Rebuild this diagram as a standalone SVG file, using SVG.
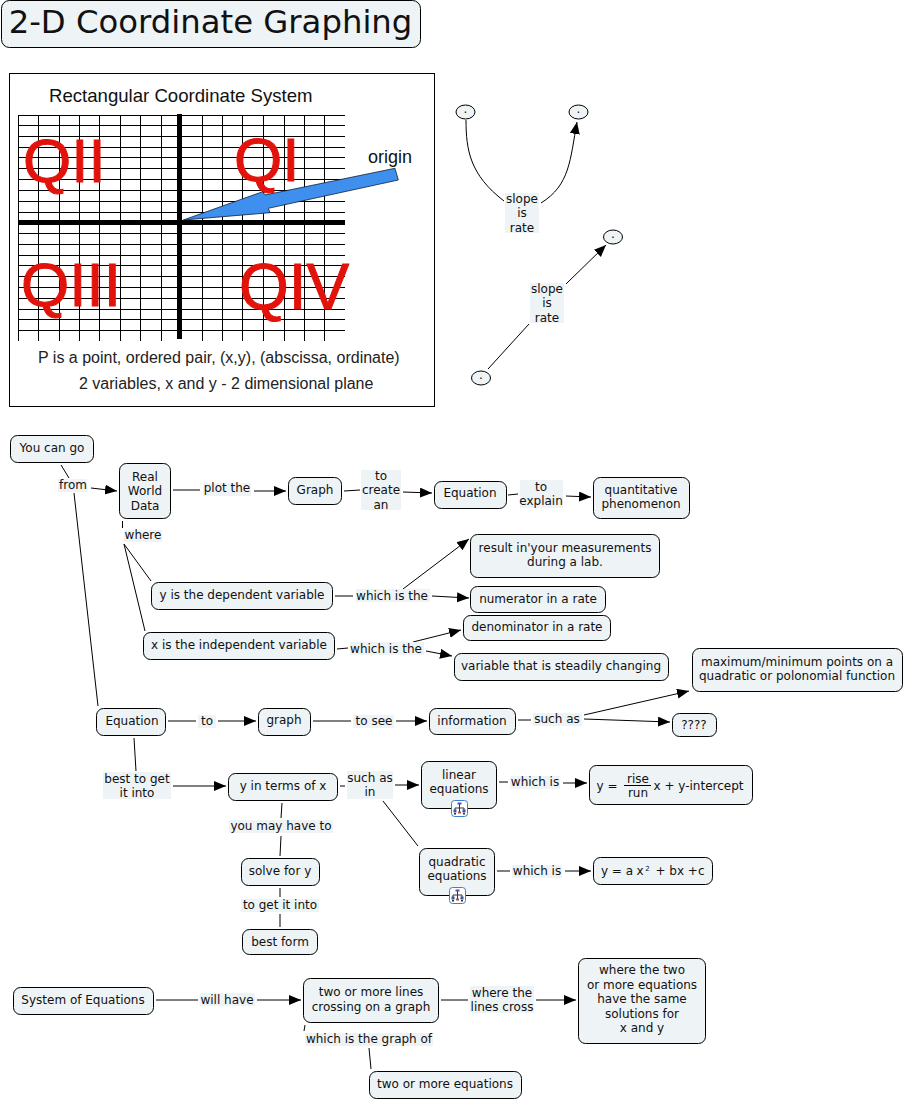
<svg xmlns="http://www.w3.org/2000/svg" width="905" height="1101" viewBox="0 0 905 1101">
<style>
.n{fill:#eef3f6;stroke:#000;stroke-width:1}
.l{fill:#eef3f6;stroke:none}
text{font-family:"DejaVu Sans",Verdana,sans-serif;font-size:12px;fill:#111;text-anchor:middle}
.g text{font-family:"Liberation Sans",Arial,sans-serif;text-anchor:start}
.q{fill:#e2130b!important;stroke:#e2130b;stroke-width:1;font-size:62px}
.c line,.c path{stroke:#000;stroke-width:1;fill:none}
.a{marker-end:url(#arr)}
</style>
<defs>
<marker id="arr" markerUnits="userSpaceOnUse" markerWidth="13" markerHeight="11" refX="12" refY="5" orient="auto"><path d="M0,0L12,5L0,10Z" fill="#000"/></marker>
<g id="icon">
<rect x="0.500" y="0.500" width="16" height="16" rx="3" fill="#fff" stroke="#3d7fd0"/>
<path d="M8.500,4V8M4,10V8H13V10M8.500,8V12" stroke="#334" fill="none"/>
<rect x="6.500" y="2.500" width="4" height="2" fill="#55a"/><rect x="2.500" y="9.500" width="3" height="3" fill="#35a"/><rect x="11.500" y="9.500" width="3" height="3" fill="#35a"/><rect x="7" y="11.500" width="3" height="2" fill="#a54"/><rect x="3" y="13" width="2" height="1.500" fill="#333"/><rect x="12" y="13" width="2" height="1.500" fill="#333"/>
</g>
</defs>
<rect width="905" height="1101" fill="#fff"/>

<g id="title"><rect class="n" x="1.500" y="0.500" width="419" height="47" rx="8"/><text x="210.500" y="33" style="font-size:32.300px">2-D Coordinate Graphing</text></g>

<g id="coordinate-graphic" class="g">
<rect x="9.500" y="73.500" width="425" height="333" fill="#fff" stroke="#000"/>
<text x="49" y="102" style="font-size:18.600px">Rectangular Coordinate System</text>
<path d="M18.500,115V341M38.500,115V341M59.500,115V341M79.500,115V341M99.500,115V341M120.500,115V341M140.500,115V341M161.500,115V341M202.500,115V341M222.500,115V341M242.500,115V341M263.500,115V341M284.500,115V341M304.500,115V341M324.500,115V341" stroke="#000" fill="none"/>
<path d="M18,115.500H345M18,125.500H345M18,136.500H345M18,147.500H345M18,157.500H345M18,168.500H345M18,179.500H345M18,190.500H345M18,201.500H345M18,212.500H345M18,233.500H345M18,244.500H345M18,255.500H345M18,265.500H345M18,276.500H345M18,287.500H345M18,298.500H345M18,309.500H345M18,319.500H345M18,330.500H345" stroke="#000" fill="none"/>
<rect x="177" y="114" width="5" height="225" fill="#000"/>
<rect x="18" y="220" width="327" height="5" fill="#000"/>
<text class="q" x="23" y="182">QII</text>
<text class="q" x="234" y="181">QI</text>
<text class="q" x="21" y="306">QIII</text>
<text class="q" x="239" y="309" style="font-size:64px">QIV</text>
<polygon points="183.300,220 262.700,191.700 265,195 395,168.300 398.300,180 268.300,208.300 270,212.700" fill="#3f8fef" stroke="#123" stroke-width="0.800"/>
<text x="368" y="163" style="font-size:18px">origin</text>
<text x="38" y="363" style="font-size:16px;fill:#222">P is a point, ordered pair, (x,y), (abscissa, ordinate)</text>
<text x="79" y="389" style="font-size:16px;fill:#222">2 variables, x and y - 2 dimensional plane</text>
</g>

<g id="connectors" class="c">
<path d="M466,120C466,150 470,175 504,201"/>
<path class="a" d="M541,203C570,185 570,160 577,122"/>
<line x1="488" y1="369" x2="529" y2="324"/><line class="a" x1="566" y1="284" x2="606" y2="245"/>
<line x1="61" y1="465" x2="69" y2="478"/><line class="a" x1="91" y1="488" x2="117" y2="491"/><line x1="74" y1="493" x2="98" y2="706"/>
<line x1="122.500" y1="521" x2="122.500" y2="528"/><line x1="124" y1="544" x2="151" y2="581"/><line x1="124" y1="544" x2="145" y2="631"/>
<line x1="173" y1="490" x2="200" y2="490"/><line class="a" x1="254" y1="491" x2="286" y2="491"/>
<line x1="344" y1="491" x2="360" y2="490"/><line class="a" x1="403" y1="492" x2="432" y2="493"/>
<line x1="508" y1="495" x2="518" y2="494"/><line class="a" x1="566" y1="496" x2="591" y2="497"/>
<line x1="335" y1="596" x2="353" y2="596"/><line class="a" x1="403" y1="589" x2="469" y2="539"/><line class="a" x1="432" y1="596" x2="469" y2="598"/>
<line x1="337" y1="649" x2="348" y2="648"/><line class="a" x1="413" y1="642" x2="461" y2="630"/><line class="a" x1="426" y1="651" x2="452" y2="656"/>
<line x1="168" y1="721" x2="196" y2="721"/><line class="a" x1="218" y1="721" x2="256" y2="721"/>
<line x1="313" y1="721" x2="351" y2="721"/><line class="a" x1="396" y1="721" x2="427" y2="721"/>
<line x1="518" y1="720" x2="531" y2="720"/><line class="a" x1="584" y1="715" x2="689" y2="691"/><line class="a" x1="584" y1="719" x2="670" y2="722"/>
<line x1="134" y1="738" x2="136" y2="771"/><line class="a" x1="173" y1="786" x2="226" y2="786"/>
<line x1="340" y1="786" x2="345" y2="786"/><line class="a" x1="395" y1="785" x2="419" y2="785"/><line x1="383" y1="801" x2="418" y2="846"/>
<line x1="282" y1="803" x2="281" y2="818"/><line x1="281" y1="836" x2="280" y2="856"/>
<line x1="280" y1="888" x2="280" y2="897"/><line x1="280" y1="914" x2="280" y2="927"/>
<line x1="499" y1="782" x2="508" y2="782"/><line class="a" x1="563" y1="783" x2="587" y2="783"/>
<line x1="497" y1="871" x2="510" y2="871"/><line class="a" x1="565" y1="871" x2="591" y2="871"/>
<line x1="156" y1="1000" x2="198" y2="1000"/><line class="a" x1="257" y1="1000" x2="301" y2="1000"/>
<line x1="441" y1="1000" x2="468" y2="1000"/><line class="a" x1="536" y1="1000" x2="576" y2="1000"/>
<line x1="305" y1="1025" x2="304" y2="1031"/><line x1="369" y1="1048" x2="371" y2="1069"/>
</g>

<g id="link-labels">
<g><rect class="l" x="505" y="193" width="34" height="40"/><text x="522" y="203">slope</text><text x="522" y="217">is</text><text x="522" y="232">rate</text></g>
<g><rect class="l" x="530" y="283" width="34" height="40"/><text x="547" y="293">slope</text><text x="547" y="307">is</text><text x="547" y="322">rate</text></g>
<g><rect class="l" x="58" y="479" width="29" height="13"/><text x="73" y="489">from</text></g>
<g><rect class="l" x="124" y="530" width="38" height="12"/><text x="143" y="539">where</text></g>
<g><rect class="l" x="203" y="483" width="48" height="13"/><text x="227" y="492">plot the</text></g>
<g><rect class="l" x="361" y="470" width="40" height="40"/><text x="381" y="480">to</text><text x="381" y="494">create</text><text x="381" y="509">an</text></g>
<g><rect class="l" x="520" y="480" width="43" height="28"/><text x="541" y="491">to</text><text x="541" y="505">explain</text></g>
<g><rect class="l" x="356" y="589" width="74" height="13"/><text x="392" y="600">which is the</text></g>
<g><rect class="l" x="350" y="642" width="74" height="13"/><text x="386" y="653">which is the</text></g>
<g><rect class="l" x="198" y="715" width="18" height="13"/><text x="207" y="725">to</text></g>
<g><rect class="l" x="353" y="715" width="41" height="13"/><text x="374" y="725">to see</text></g>
<g><rect class="l" x="533" y="713" width="49" height="13"/><text x="557" y="723">such as</text></g>
<g><rect class="l" x="103" y="772" width="68" height="27"/><text x="137" y="783">best to get</text><text x="137" y="797">it into</text></g>
<g><rect class="l" x="347" y="771" width="46" height="28"/><text x="370" y="782">such as</text><text x="370" y="796">in</text></g>
<g><rect class="l" x="229" y="820" width="104" height="13"/><text x="281" y="830">you may have to</text></g>
<g><rect class="l" x="241" y="899" width="78" height="13"/><text x="280" y="909">to get it into</text></g>
<g><rect class="l" x="510" y="776" width="50" height="13"/><text x="535" y="786">which is</text></g>
<g><rect class="l" x="512" y="865" width="50" height="13"/><text x="537" y="875">which is</text></g>
<g><rect class="l" x="200" y="993" width="55" height="13"/><text x="227" y="1004">will have</text></g>
<g><rect class="l" x="470" y="986" width="64" height="27"/><text x="502" y="997">where the</text><text x="502" y="1011">lines cross</text></g>
<g><rect class="l" x="305" y="1033" width="128" height="13"/><text x="369" y="1043">which is the graph of</text></g>
</g>

<g id="oval-1"><ellipse class="n" cx="465.500" cy="112" rx="9.500" ry="7"/><text x="465.500" y="117">·</text></g>
<g id="oval-2"><ellipse class="n" cx="578.500" cy="112" rx="9.500" ry="7"/><text x="578.500" y="117">·</text></g>
<g id="oval-3"><ellipse class="n" cx="613" cy="237" rx="9.500" ry="7"/><text x="613" y="242">·</text></g>
<g id="oval-4"><ellipse class="n" cx="481" cy="378" rx="9.500" ry="7"/><text x="481" y="383">·</text></g>

<g id="you-can-go"><rect class="n" x="10.500" y="435.500" width="83" height="27" rx="7"/><text x="52" y="452">You can go</text></g>
<g id="real-world-data"><rect class="n" x="119.500" y="463.500" width="51" height="55" rx="7"/><text x="145" y="481">Real</text><text x="145" y="495">World</text><text x="145" y="510">Data</text></g>
<g id="graph-a"><rect class="n" x="288.500" y="477.500" width="53" height="27" rx="7"/><text x="315" y="494">Graph</text></g>
<g id="equation-a"><rect class="n" x="434.500" y="481.500" width="72" height="27" rx="7"/><text x="470" y="497">Equation</text></g>
<g id="quantitative"><rect class="n" x="593.500" y="477.500" width="96" height="41" rx="7"/><text x="641" y="494">quantitative</text><text x="641" y="508">phenomenon</text></g>
<g id="result"><rect class="n" x="470.500" y="534.500" width="189" height="43" rx="7"/><text x="565" y="552">result in'your measurements</text><text x="565" y="566">during a lab.</text></g>
<g id="numerator"><rect class="n" x="470.500" y="586.500" width="135" height="26" rx="7"/><text x="538" y="603">numerator in a rate</text></g>
<g id="denominator"><rect class="n" x="463.500" y="615.500" width="147" height="25" rx="7"/><text x="537" y="631">denominator in a rate</text></g>
<g id="variable"><rect class="n" x="454.500" y="653.500" width="214" height="27" rx="7"/><text x="561" y="670">variable that is steadily changing</text></g>
<g id="y-dep"><rect class="n" x="151.500" y="582.500" width="181" height="27" rx="7"/><text x="242" y="599">y is the dependent variable</text></g>
<g id="x-indep"><rect class="n" x="143.500" y="632.500" width="191" height="27" rx="7"/><text x="239" y="649">x is the independent variable</text></g>
<g id="maxmin"><rect class="n" x="692.500" y="648.500" width="210" height="43" rx="7"/><text x="797" y="666">maximum/minimum points on a</text><text x="797" y="680">quadratic or polonomial function</text></g>
<g id="question"><rect class="n" x="672.500" y="713.500" width="44" height="23" rx="7"/><text x="694" y="729">????</text></g>
<g id="equation-b"><rect class="n" x="96.500" y="708.500" width="69" height="27" rx="7"/><text x="132" y="725">Equation</text></g>
<g id="graph-b"><rect class="n" x="258.500" y="708.500" width="52" height="27" rx="7"/><text x="284" y="724">graph</text></g>
<g id="information"><rect class="n" x="429.500" y="708.500" width="86" height="26" rx="7"/><text x="472" y="725">information</text></g>
<g id="y-in-terms"><rect class="n" x="228.500" y="773.500" width="109" height="27" rx="7"/><text x="283" y="790">y in terms of x</text></g>
<g id="linear"><rect class="n" x="421.500" y="761.500" width="75" height="47" rx="7"/><text x="459" y="779">linear</text><text x="459" y="793">equations</text><use href="#icon" x="451" y="800"/></g>
<g id="rise-run"><rect class="n" x="589.500" y="765.500" width="163" height="39" rx="7"/><text x="607" y="790">y =</text><text x="638" y="783">rise</text><line x1="624" y1="785.500" x2="651" y2="785.500" stroke="#000"/><text x="638" y="797">run</text><text x="698.500" y="790">x + y-intercept</text></g>
<g id="quadratic"><rect class="n" x="419.500" y="848.500" width="75" height="47" rx="7"/><text x="457" y="866">quadratic</text><text x="457" y="880">equations</text><use href="#icon" x="449" y="887"/></g>
<g id="y-ax2"><rect class="n" x="593.500" y="857.500" width="119" height="27" rx="7"/><text x="617" y="875">y = a</text><text x="640" y="875">x</text><text x="647.500" y="871" style="font-size:7px">2</text><text x="680" y="875">+ bx +c</text></g>
<g id="solve"><rect class="n" x="241.500" y="858.500" width="78" height="27" rx="7"/><text x="280" y="875">solve for y</text></g>
<g id="best-form"><rect class="n" x="242.500" y="929.500" width="75" height="25" rx="7"/><text x="280" y="946">best form</text></g>
<g id="system"><rect class="n" x="13.500" y="987.500" width="140" height="27" rx="7"/><text x="83" y="1004">System of Equations</text></g>
<g id="two-lines"><rect class="n" x="303.500" y="978.500" width="135" height="44" rx="7"/><text x="371" y="996">two or more lines</text><text x="371" y="1011">crossing on a graph</text></g>
<g id="where-two"><rect class="n" x="578.500" y="958.500" width="127" height="85" rx="7"/><text x="642" y="974">where the two</text><text x="642" y="989">or more equations</text><text x="642" y="1003">have the same</text><text x="642" y="1018">solutions for</text><text x="642" y="1032">x and y</text></g>
<g id="two-equations"><rect class="n" x="369.500" y="1071.500" width="152" height="27" rx="7"/><text x="445" y="1088">two or more equations</text></g>
</svg>
